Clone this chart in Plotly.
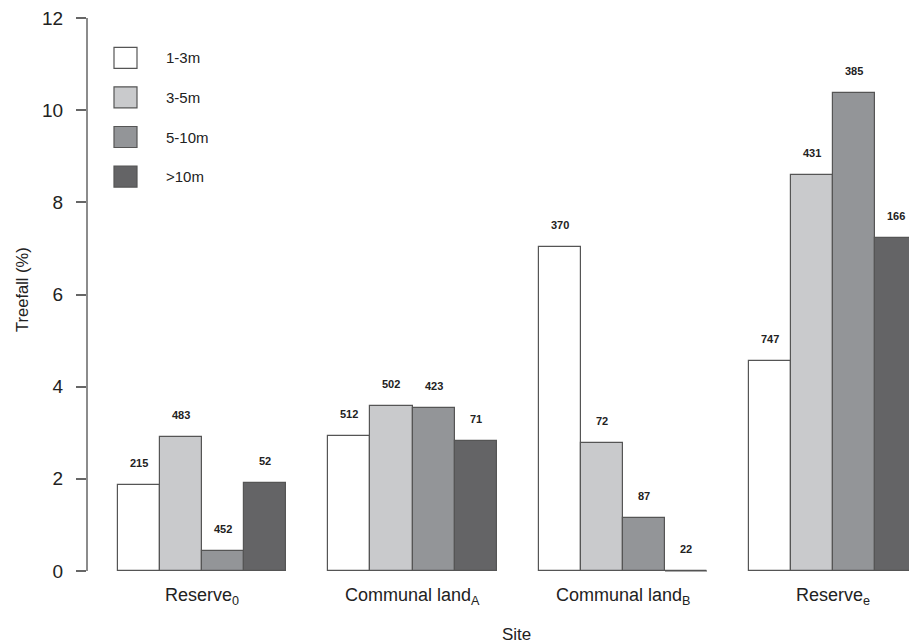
import plotly.graph_objects as go

# Treefall percentage by site and tree-height class, with sample sizes
sites = ["Reserve<sub>0</sub>", "Communal land<sub>A</sub>",
         "Communal land<sub>B</sub>", "Reserve<sub>e</sub>"]
size_classes = ["1-3m", "3-5m", "5-10m", ">10m"]
treefall_pct = [
    [1.87, 2.93, 7.03, 4.55],    # 1-3m
    [2.91, 3.58, 2.78, 8.59],    # 3-5m
    [0.43, 3.54, 1.15, 10.38],   # 5-10m
    [1.91, 2.82, 0.00, 7.23],    # >10m
]
sample_n = [
    [215, 512, 370, 747],
    [483, 502, 72, 431],
    [452, 423, 87, 385],
    [52, 71, 22, 166],
]
y_ticks = [0, 2, 4, 6, 8, 10, 12]

fill_colors = ["#ffffff", "#c9cacc", "#939598", "#646466"]
edge_color = "#555555"
text_color = "#222222"
font_family = "Liberation Sans, Arial, sans-serif"

W, H = 909, 644
ML, MR, MT, MB = 87, 0, 0, 51
X_RANGE = [0.263, 19.80]
Y_RANGE = [-0.477, 12.39]

n_classes = len(size_classes)
group_step = n_classes + 1          # one bar-width gap between groups


def bar_center(g, k):
    return 1 + group_step * g + k + 0.5


fig = go.Figure()

for k, label in enumerate(size_classes):
    xs = [bar_center(g, k) for g in range(len(sites))]
    fig.add_trace(go.Bar(
        x=xs, y=treefall_pct[k], width=1.0, name=label,
        marker=dict(color=fill_colors[k], line=dict(color=edge_color, width=1.2)),
        showlegend=False, hoverinfo="skip",
    ))
    # zero-height bars still show their outline along the baseline
    for x, v in zip(xs, treefall_pct[k]):
        if v == 0:
            fig.add_trace(go.Scatter(
                x=[x - 0.5, x + 0.5], y=[v, v], mode="lines",
                line=dict(color=edge_color, width=1.2),
                showlegend=False, hoverinfo="skip", cliponaxis=False,
            ))

annotations = []

# sample-size labels above each bar
for k in range(n_classes):
    for g in range(len(sites)):
        annotations.append(dict(
            x=bar_center(g, k), y=treefall_pct[k][g], yshift=22,
            text=str(sample_n[k][g]), showarrow=False,
            xanchor="center", yanchor="middle",
            font=dict(family=font_family, size=11, color=text_color, weight="bold"),
        ))

# site labels under each group
for g, site in enumerate(sites):
    gx = 1 + group_step * g + n_classes / 2
    annotations.append(dict(
        x=gx, y=0, yshift=-25, text=site, showarrow=False,
        xanchor="center", yanchor="middle",
        font=dict(family=font_family, size=18, color=text_color),
    ))

# axis titles
annotations.append(dict(
    x=(X_RANGE[0] + X_RANGE[1]) / 2 + 0.45, y=0, yshift=-63, text="Site",
    showarrow=False, xanchor="center", yanchor="middle",
    font=dict(family=font_family, size=17, color=text_color),
))
annotations.append(dict(
    xref="paper", x=(22 - ML) / (W - ML - MR), y=6.1, text="Treefall (%)",
    textangle=-90, showarrow=False, xanchor="center", yanchor="middle",
    font=dict(family=font_family, size=16.5, color=text_color),
))


# legend drawn as boxes with labels, placed in pixel terms
def px_to_x(px):
    return X_RANGE[0] + (px - ML) / (W - ML - MR) * (X_RANGE[1] - X_RANGE[0])


def py_to_y(py):
    return Y_RANGE[1] - (py - MT) / (H - MT - MB) * (Y_RANGE[1] - Y_RANGE[0])


shapes = []
legend_rows = [57.8, 97.3, 137.0, 176.6]
for k, label in enumerate(size_classes):
    cy = legend_rows[k]
    shapes.append(dict(
        type="rect", xref="x", yref="y",
        x0=px_to_x(114), x1=px_to_x(137), y0=py_to_y(cy + 10.5), y1=py_to_y(cy - 10.5),
        fillcolor=fill_colors[k], line=dict(color=edge_color, width=1.2),
    ))
    annotations.append(dict(
        x=px_to_x(164), y=py_to_y(cy), text=label, showarrow=False,
        xanchor="left", yanchor="middle",
        font=dict(family=font_family, size=15, color=text_color),
    ))

# y axis line spanning only the tick range
shapes.append(dict(
    type="line", xref="paper", yref="y", x0=0, x1=0,
    y0=y_ticks[0], y1=y_ticks[-1], line=dict(color="#666666", width=1.5),
))

fig.update_layout(
    width=W, height=H,
    margin=dict(l=ML, r=MR, t=MT, b=MB, pad=0),
    paper_bgcolor="white", plot_bgcolor="white",
    barmode="overlay", bargap=0,
    xaxis=dict(range=X_RANGE, visible=False, fixedrange=True),
    yaxis=dict(
        range=Y_RANGE, tickvals=y_ticks, ticktext=[str(t) for t in y_ticks],
        ticks="outside", ticklen=10, tickwidth=1.5, tickcolor="#666666",
        showline=False, showgrid=False, zeroline=False,
        ticklabelstandoff=9,
        tickfont=dict(family=font_family, size=19, color=text_color),
    ),
    annotations=annotations, shapes=shapes,
    font=dict(family=font_family),
)

fig.write_html("out.html")
